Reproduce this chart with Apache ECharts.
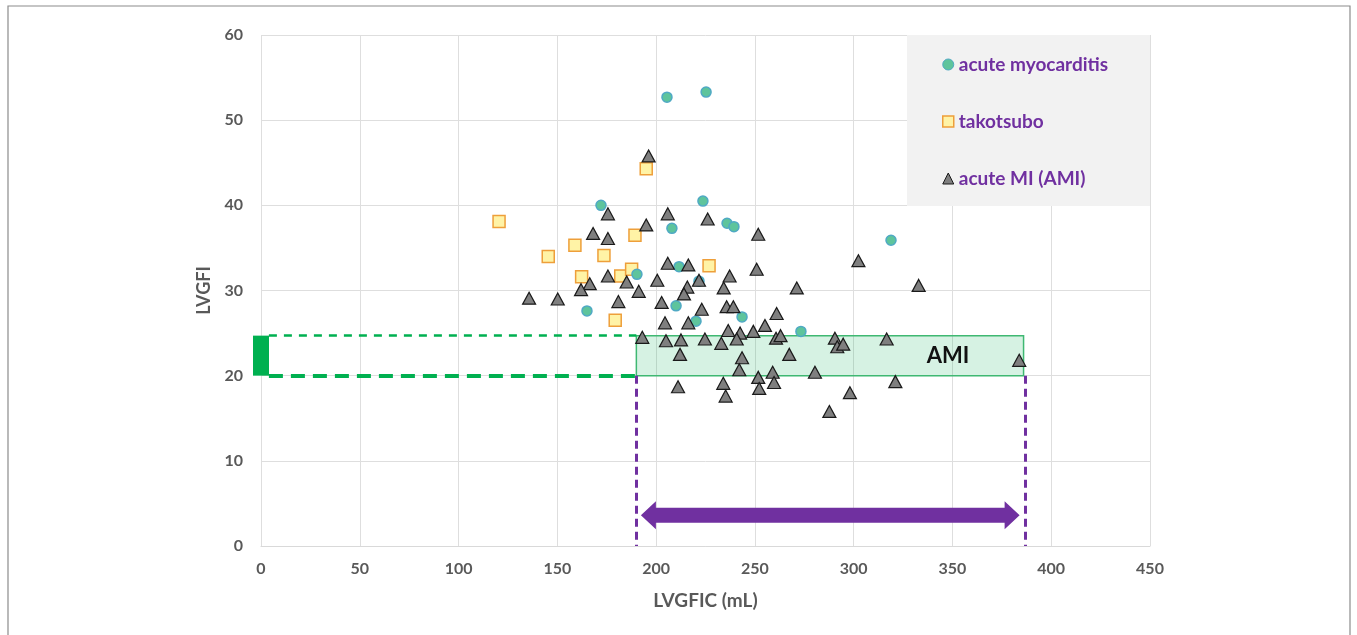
<!DOCTYPE html>
<html>
<head>
<meta charset="utf-8">
<title>LVGFI vs LVGFIC</title>
<script src="https://cdn.jsdelivr.net/npm/echarts@6/dist/echarts.min.js"></script>
<style>
  html, body { margin: 0; padding: 0; background: #ffffff; }
  #chart { width: 1357px; height: 635px; }
</style>
</head>
<body>
<div id="chart"></div>
<script>
// LVGFIC (mL) vs LVGFI, one [x, y] pair per patient
const myocarditis = [
  [205.5, 52.7], [225.3, 53.3], [172.1, 40.0], [223.7, 40.5], [208.0, 37.3],
  [235.9, 37.9], [239.4, 37.5], [318.9, 35.9], [211.6, 32.8], [190.3, 31.9],
  [221.7, 31.1], [210.1, 28.2], [165.0, 27.6], [220.2, 26.4], [243.5, 26.9],
  [273.3, 25.2]
];
const takotsubo = [
  [195.0, 44.3], [120.5, 38.1], [158.9, 35.3], [189.3, 36.5], [145.4, 34.0],
  [173.6, 34.1], [226.8, 32.9], [162.3, 31.6], [182.1, 31.7], [187.6, 32.5],
  [179.3, 26.5]
];
const acuteMI = [
  [196.2, 45.8], [175.6, 39.0], [205.9, 39.0], [226.1, 38.4], [195.0, 37.7],
  [168.1, 36.7], [175.6, 36.1], [251.7, 36.6], [205.9, 33.2], [216.3, 33.0],
  [237.2, 31.7], [250.9, 32.5], [175.6, 31.7], [166.4, 30.8], [162.0, 30.1],
  [185.1, 31.0], [200.6, 31.2], [215.8, 30.4], [214.1, 29.6], [234.2, 30.3],
  [191.2, 29.9], [135.7, 29.1], [150.2, 29.0], [180.9, 28.7], [202.8, 28.6],
  [223.1, 27.8], [235.7, 28.1], [239.1, 28.1], [204.5, 26.2], [216.3, 26.2],
  [221.7, 31.2], [271.2, 30.3], [261.0, 27.3], [255.1, 25.9], [236.5, 25.3],
  [242.5, 25.0], [249.2, 25.2], [193.0, 24.5], [205.0, 24.1], [212.6, 24.2],
  [224.7, 24.3], [233.0, 23.8], [240.8, 24.3], [260.7, 24.4], [263.0, 24.7],
  [212.1, 22.5], [243.5, 22.1], [267.4, 22.5], [242.1, 20.7], [259.0, 20.4],
  [251.7, 19.8], [211.1, 18.7], [234.0, 19.1], [259.7, 19.2], [252.2, 18.5],
  [235.2, 17.6], [302.4, 33.5], [332.9, 30.6], [290.5, 24.4], [291.7, 23.4],
  [294.7, 23.7], [316.7, 24.3], [383.8, 21.8], [280.4, 20.4], [321.1, 19.3],
  [298.1, 18.0], [287.7, 15.8]
];

// AMI reference range: LVGFI band and LVGFIC span
const amiLvgfi = [20, 24.7];
const amiLvgfic = [190, 386];
const rangeCutoffs = [190, 387];
const arrowSpan = [192.3, 384];
const arrowLevel = 3.6;

const seriesNames = ['acute myocarditis', 'takotsubo', 'acute MI (AMI)'];
const xTicks = { min: 0, max: 450, interval: 50 };
const yTicks = { min: 0, max: 60, interval: 10 };

const FONT = 'Lato, "Open Sans", sans-serif';
const GREEN = '#00b050';
const PURPLE = '#7030a0';
const AXIS_TEXT = '#595959';

const chart = echarts.init(document.getElementById('chart'), null, { renderer: 'canvas' });

const option = {
  animation: false,
  backgroundColor: '#ffffff',
  textStyle: { fontFamily: FONT },
  grid: { left: 261, right: 207, top: 35, bottom: 89, containLabel: false },
  graphic: [
    {
      type: 'rect', silent: true, z: -10,
      shape: { x: 8, y: 6, width: 1342, height: 660 },
      style: { fill: 'none', stroke: '#8c8c8c', lineWidth: 1.2 }
    },
    {
      type: 'rect', silent: true, z: 1,
      shape: { x: 907, y: 35, width: 243, height: 171 },
      style: { fill: '#f2f2f2' }
    }
  ],
  legend: {
    data: [
      { name: seriesNames[0], icon: 'circle', itemStyle: { color: '#5ec49c', borderColor: '#4fa9c4', borderWidth: 1 } },
      { name: seriesNames[1], icon: 'rect', itemStyle: { color: '#fff3a6', borderColor: '#ee9f3a', borderWidth: 1.5 } },
      { name: seriesNames[2], icon: 'triangle', itemStyle: { color: '#7f7f7f', borderColor: '#1a1a1a', borderWidth: 1 } }
    ],
    orient: 'vertical',
    left: 937,
    top: 50,
    itemGap: 38,
    itemWidth: 11,
    itemHeight: 11,
    z: 5,
    selectedMode: false,
    textStyle: { color: PURPLE, fontWeight: 'bold', fontSize: 19, fontFamily: FONT }
  },
  xAxis: {
    type: 'value',
    min: xTicks.min, max: xTicks.max, interval: xTicks.interval,
    name: 'LVGFIC (mL)',
    nameLocation: 'middle',
    nameGap: 45,
    nameTextStyle: { color: AXIS_TEXT, fontWeight: 'bold', fontSize: 19, fontFamily: FONT },
    axisLine: { show: true, lineStyle: { color: '#d9d9d9', width: 1 } },
    axisTick: { show: false },
    axisLabel: { color: AXIS_TEXT, fontWeight: 'bold', fontSize: 16, margin: 15, fontFamily: FONT },
    splitLine: { show: true, lineStyle: { color: '#dedede', width: 1 } }
  },
  yAxis: {
    type: 'value',
    min: yTicks.min, max: yTicks.max, interval: yTicks.interval,
    name: 'LVGFI',
    nameLocation: 'middle',
    nameGap: 44,
    nameTextStyle: { color: AXIS_TEXT, fontWeight: 'bold', fontSize: 18, fontFamily: FONT },
    axisLine: { show: false },
    axisTick: { show: false },
    axisLabel: { color: AXIS_TEXT, fontWeight: 'bold', fontSize: 16, margin: 18, fontFamily: FONT },
    splitLine: { show: true, lineStyle: { color: '#dedede', width: 1 } }
  },
  series: [
    {
      name: seriesNames[1],
      type: 'scatter',
      data: takotsubo,
      symbol: 'rect',
      symbolSize: 12,
      z: 3,
      itemStyle: { color: '#fff3a6', borderColor: '#ee9f3a', borderWidth: 1.5, opacity: 1 }
    },
    {
      name: seriesNames[0],
      type: 'scatter',
      data: myocarditis,
      symbol: 'circle',
      symbolSize: 10,
      z: 3,
      itemStyle: { color: '#5ec49c', borderColor: '#4fa9c4', borderWidth: 1.5, opacity: 1 }
    },
    {
      name: seriesNames[2],
      type: 'scatter',
      data: acuteMI,
      symbol: 'triangle',
      symbolSize: [13, 12],
      z: 3,
      itemStyle: { color: '#7f7f7f', borderColor: '#1a1a1a', borderWidth: 1.2, opacity: 1 }
    },
    {
      // AMI box, dashed guides and cut-off lines
      name: 'AMI range',
      type: 'scatter',
      data: [],
      z: 4,
      silent: true,
      markArea: {
        silent: true,
        itemStyle: { color: 'rgba(0,176,80,0.16)', borderColor: '#3fb872', borderWidth: 1.5 },
        label: {
          show: true, position: 'insideRight', distance: 55,
          color: '#111111', fontWeight: 'bold', fontSize: 22, fontFamily: FONT
        },
        data: [[
          { name: 'AMI', coord: [amiLvgfic[0], amiLvgfi[1]] },
          { coord: [amiLvgfic[1], amiLvgfi[0]] }
        ]]
      },
      markLine: {
        silent: true,
        symbol: ['none', 'none'],
        label: { show: false },
        data: [
          [
            { coord: [4, amiLvgfi[1]], lineStyle: { color: GREEN, width: 2.5, type: [8, 7] } },
            { coord: [amiLvgfic[0], amiLvgfi[1]] }
          ],
          [
            { coord: [4, amiLvgfi[0]], lineStyle: { color: GREEN, width: 4, type: [14, 8] } },
            { coord: [amiLvgfic[0], amiLvgfi[0]] }
          ],
          [
            { coord: [rangeCutoffs[0], amiLvgfi[0]], lineStyle: { color: PURPLE, width: 3, type: [8, 5] } },
            { coord: [rangeCutoffs[0], 0] }
          ],
          [
            { coord: [rangeCutoffs[1], amiLvgfi[0]], lineStyle: { color: PURPLE, width: 3, type: [8, 5] } },
            { coord: [rangeCutoffs[1], 0] }
          ]
        ]
      }
    },
    {
      // solid green bar marking the LVGFI band on the y axis
      name: 'LVGFI band',
      type: 'custom',
      clip: false,
      silent: true,
      z: 5,
      data: [[0, amiLvgfi[0], amiLvgfi[1]]],
      renderItem: function (params, api) {
        const lo = api.coord([api.value(0), api.value(1)]);
        const hi = api.coord([api.value(0), api.value(2)]);
        return {
          type: 'rect',
          shape: { x: lo[0] - 8, y: hi[1], width: 16, height: lo[1] - hi[1] },
          style: { fill: GREEN }
        };
      }
    },
    {
      // double-headed arrow spanning the AMI LVGFIC range
      name: 'LVGFIC span',
      type: 'custom',
      silent: true,
      z: 5,
      data: [[arrowSpan[0], arrowSpan[1], arrowLevel]],
      renderItem: function (params, api) {
        const a = api.coord([api.value(0), api.value(2)]);
        const b = api.coord([api.value(1), api.value(2)]);
        const y = a[1], head = 15, hh = 14, sh = 7.5;
        return {
          type: 'polygon',
          shape: {
            points: [
              [a[0], y], [a[0] + head, y - hh], [a[0] + head, y - sh],
              [b[0] - head, y - sh], [b[0] - head, y - hh], [b[0], y],
              [b[0] - head, y + hh], [b[0] - head, y + sh],
              [a[0] + head, y + sh], [a[0] + head, y + hh]
            ]
          },
          style: { fill: PURPLE }
        };
      }
    }
  ]
};

chart.setOption(option);
</script>
</body>
</html>
